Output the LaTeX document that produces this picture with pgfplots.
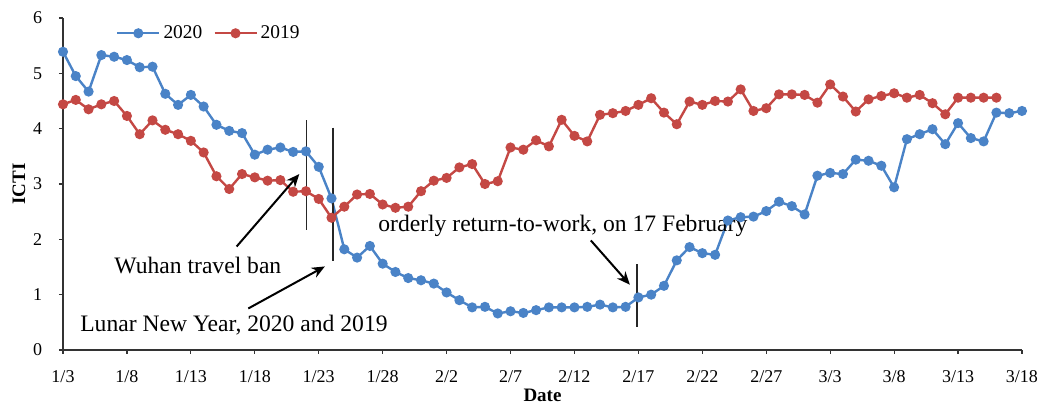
\documentclass[border=0pt]{standalone}
\usepackage{pgfplots}
\pgfplotsset{compat=1.18}
\usepackage{fontspec}
\setmainfont{Liberation Serif}
\usetikzlibrary{arrows.meta}
\definecolor{c2020}{RGB}{74,131,199}
\definecolor{c2019}{RGB}{196,72,68}
\begin{document}
\begin{tikzpicture}
\begin{axis}[
  scale only axis,
  width=479.5pt, height=166pt,
  xmin=0, xmax=75, ymin=0, ymax=6,
  axis x line*=bottom, axis y line*=left,
  axis line style={black!80, line width=0.7pt, -},
  tick style={black!80, line width=0.6pt},
  tick align=outside, major tick length=2pt,
  xtick={0,5,...,75},
  xticklabels={1/3,1/8,1/13,1/18,1/23,1/28,2/2,2/7,2/12,2/17,2/22,2/27,3/3,3/8,3/13,3/18},
  ytick={0,1,...,6},
  /pgf/number format/assume math mode=true,
  ticklabel style={font=\fontsize{9}{10}\selectfont},
  xticklabel style={anchor=base, inner sep=0pt, yshift=-14.5pt},
  yticklabel style={anchor=east, inner sep=0pt, xshift=-8.2pt},
  xlabel={\textbf{Date}},
  ylabel={\textbf{ICTI}},
  label style={font=\fontsize{9.5}{11}\selectfont},
  xlabel style={at={(axis description cs:0.5,-0.137)}, anchor=center},
  ylabel style={at={(axis description cs:-0.0459,0.5)}, anchor=center, rotate=0},
  legend style={at={(axis description cs:0.055,0.954)}, anchor=west, draw=none, fill=none,
    inner sep=0pt, font=\fontsize{9.7}{11}\selectfont, nodes={inner sep=1.5pt},
    /tikz/every even column/.append style={column sep=4pt}},
  legend columns=2,
  legend image code/.code={\draw[mark repeat=2,mark phase=2,#1] plot coordinates {(0pt,0pt) (10.5pt,0pt) (21pt,0pt)};},
  clip=false,
]
\addplot[c2020, line width=1.2pt, mark=*, mark size=1.9pt, mark options={solid}] table[x=i, y=v] {
i v
0 5.39
1 4.95
2 4.67
3 5.33
4 5.30
5 5.24
6 5.11
7 5.12
8 4.63
9 4.43
10 4.61
11 4.40
12 4.07
13 3.96
14 3.92
15 3.53
16 3.62
17 3.66
18 3.58
19 3.59
20 3.31
21 2.74
22 1.82
23 1.67
24 1.88
25 1.56
26 1.41
27 1.30
28 1.26
29 1.20
30 1.04
31 0.90
32 0.77
33 0.78
34 0.66
35 0.70
36 0.67
37 0.72
38 0.77
39 0.77
40 0.77
41 0.78
42 0.82
43 0.77
44 0.78
45 0.95
46 1.00
47 1.16
48 1.62
49 1.86
50 1.75
51 1.72
52 2.34
53 2.40
54 2.41
55 2.51
56 2.68
57 2.60
58 2.45
59 3.15
60 3.20
61 3.18
62 3.44
63 3.42
64 3.33
65 2.94
66 3.81
67 3.90
68 3.99
69 3.72
70 4.10
71 3.83
72 3.77
73 4.29
74 4.28
75 4.32
};
\addlegendentry{2020}
\addplot[c2019, line width=1.2pt, mark=*, mark size=1.9pt, mark options={solid}] table[x=i, y=v] {
i v
0 4.44
1 4.52
2 4.35
3 4.44
4 4.50
5 4.23
6 3.90
7 4.15
8 3.98
9 3.90
10 3.78
11 3.57
12 3.14
13 2.91
14 3.18
15 3.12
16 3.06
17 3.07
18 2.86
19 2.87
20 2.73
21 2.39
22 2.59
23 2.81
24 2.82
25 2.63
26 2.57
27 2.59
28 2.87
29 3.06
30 3.11
31 3.30
32 3.36
33 3.00
34 3.05
35 3.66
36 3.62
37 3.79
38 3.68
39 4.16
40 3.87
41 3.77
42 4.25
43 4.28
44 4.32
45 4.43
46 4.55
47 4.29
48 4.08
49 4.49
50 4.43
51 4.50
52 4.49
53 4.71
54 4.32
55 4.37
56 4.62
57 4.62
58 4.61
59 4.47
60 4.80
61 4.58
62 4.31
63 4.53
64 4.59
65 4.64
66 4.56
67 4.61
68 4.46
69 4.26
70 4.56
71 4.56
72 4.56
73 4.56
};
\addlegendentry{2019}
% annotations
\draw[black!85, line width=0.9pt] (axis cs:19.05,4.15) -- (axis cs:19.05,2.16);
\draw[black!85, line width=0.9pt] (axis cs:21.09,4.02) -- (axis cs:21.09,1.61);
\draw[black!85, line width=0.9pt] (axis cs:44.86,1.55) -- (axis cs:44.86,0.42);
\draw[black, line width=1pt, -{Stealth[length=6.5pt,width=5.5pt]}] (axis cs:13.58,1.87) -- (axis cs:18.48,3.18);
\draw[black, line width=1pt, -{Stealth[length=6.5pt,width=5.5pt]}] (axis cs:14.49,0.75) -- (axis cs:20.48,1.51);
\draw[black, line width=1pt, -{Stealth[length=6.5pt,width=5.5pt]}] (axis cs:41.28,1.98) -- (axis cs:44.33,1.18);
\node[font=\fontsize{11.8}{13}\selectfont, inner sep=0pt] at (axis cs:10.55,1.52) {Wuhan travel ban};
\node[font=\fontsize{11.8}{13}\selectfont, inner sep=0pt] at (axis cs:13.37,0.45) {Lunar New Year, 2020 and 2019};
\node[font=\fontsize{11.8}{13}\selectfont, inner sep=0pt] at (axis cs:39.09,2.24) {orderly return-to-work, on 17 February};
\end{axis}
\pgfresetboundingbox
\path (-31.5pt,-27.5pt) rectangle (489pt,175pt);
\end{tikzpicture}
\end{document}
